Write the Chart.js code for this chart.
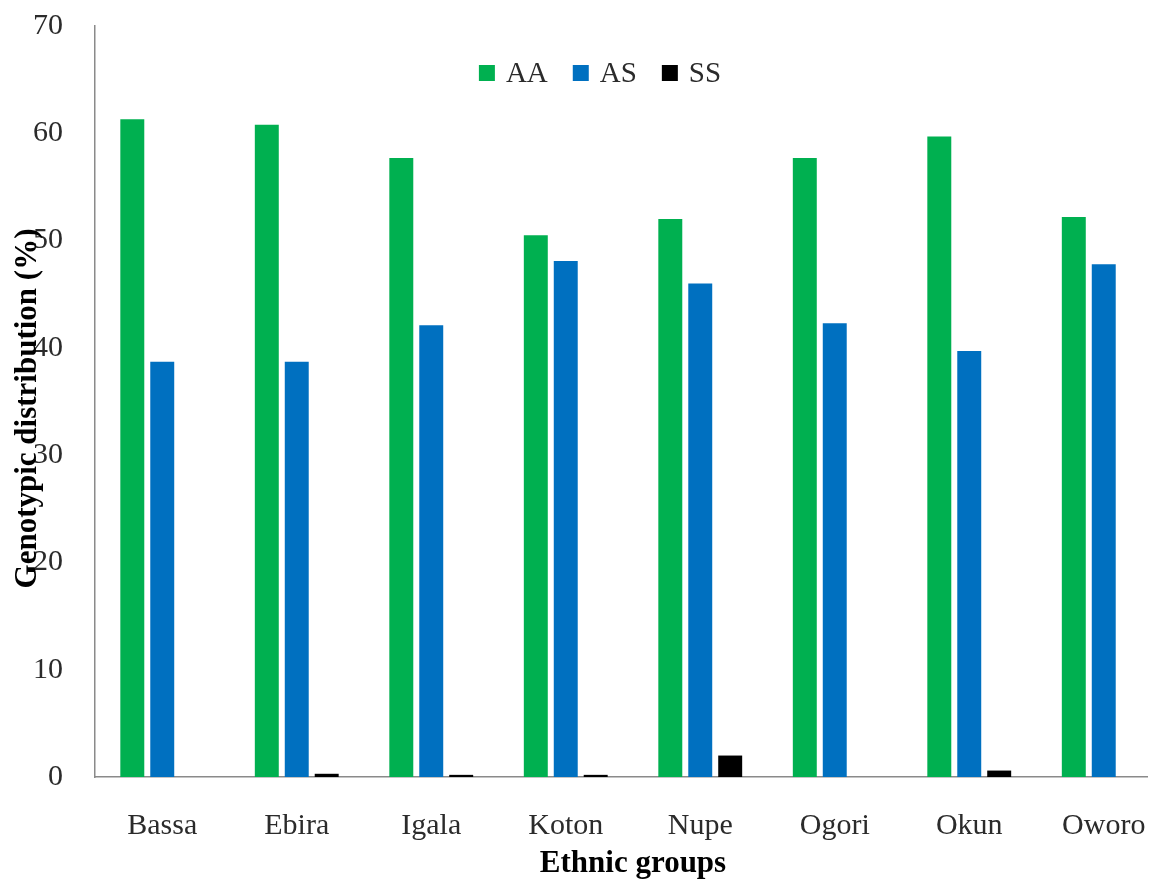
<!DOCTYPE html>
<html>
<head>
<meta charset="utf-8">
<script src="https://cdn.jsdelivr.net/npm/chart.js@4/dist/chart.umd.min.js"></script>
<style>
  html, body { margin: 0; padding: 0; background: #ffffff; overflow: hidden; }
  #wrap { width: 1148px; height: 884px; overflow: hidden; background: #ffffff; }
  canvas { display: block; }
</style>
</head>
<body>
<div id="wrap"><canvas id="chart" width="1180" height="884"></canvas></div>
<script>
// Ethnic groups on the x axis
const categories = ['Bassa', 'Ebira', 'Igala', 'Koton', 'Nupe', 'Ogori', 'Okun', 'Oworo'];

// Genotype frequencies (%) per group
const aaValues = [61.3, 60.8, 57.7, 50.5, 52.0, 57.7, 59.7, 52.2];
const asValues = [38.7, 38.7, 42.1, 48.1, 46.0, 42.3, 39.7, 47.8];
const ssValues = [0.0, 0.3, 0.2, 0.2, 2.0, 0.0, 0.6, 0.0];

const seriesNames = ['AA', 'AS', 'SS'];
const seriesColors = ['#00B050', '#0070C0', '#000000'];

const yTicks = [0, 10, 20, 30, 40, 50, 60, 70];

const serif = "'Liberation Serif', 'Times New Roman', serif";
const textColor = '#2b2b2b';
const axisColor = '#8a8a8a';

// Legend row drawn inside the plot area, near the top
const innerLegend = {
  id: 'innerLegend',
  afterDraw(chart) {
    const ctx = chart.ctx;
    const box = 16, gapText = 11, gapItem = 25;
    ctx.save();
    ctx.font = "29px " + serif;
    ctx.textBaseline = 'middle';
    ctx.textAlign = 'left';
    const items = chart.data.datasets.map(ds => ({
      label: ds.label, color: ds.backgroundColor, w: ctx.measureText(ds.label).width
    }));
    const total = items.reduce((s, it) => s + box + gapText + it.w, 0) + gapItem * (items.length - 1);
    let x = 600 - total / 2;
    const yc = chart.chartArea.top + 47;
    items.forEach(it => {
      ctx.fillStyle = it.color;
      ctx.fillRect(x, yc - box / 2, box, box);
      ctx.fillStyle = textColor;
      ctx.fillText(it.label, x + box + gapText, yc + 1);
      x += box + gapText + it.w + gapItem;
    });
    ctx.restore();
  }
};

// Rotated y-axis title, set close to the tick labels
const yTitle = {
  id: 'yTitle',
  afterDraw(chart) {
    const ctx = chart.ctx;
    const area = chart.chartArea;
    ctx.save();
    ctx.translate(28, (area.top + area.bottom) / 2 + 7);
    ctx.rotate(-Math.PI / 2);
    ctx.font = "bold 31px " + serif;
    ctx.fillStyle = '#000000';
    ctx.textAlign = 'center';
    ctx.textBaseline = 'middle';
    ctx.fillText('Genotypic distribution (%)', 0, 0);
    ctx.restore();
  }
};

const datasets = [aaValues, asValues, ssValues].map((vals, i) => ({
  label: seriesNames[i],
  data: vals,
  backgroundColor: seriesColors[i],
  borderWidth: 0,
  categoryPercentage: 0.668,
  barPercentage: 0.8
}));

new Chart(document.getElementById('chart'), {
  type: 'bar',
  data: { labels: categories, datasets: datasets },
  options: {
    responsive: false,
    animation: false,
    layout: { padding: { top: 26, right: 9, bottom: 0, left: 0 } },
    plugins: {
      legend: { display: false },
      tooltip: { enabled: false }
    },
    scales: {
      x: {
        grid: { display: false, drawTicks: false, tickLength: 0 },
        border: { display: true, color: axisColor, width: 1.5 },
        ticks: {
          color: textColor,
          font: { family: serif, size: 30 },
          padding: 31,
          maxRotation: 0,
          autoSkip: false
        },
        title: {
          display: true,
          text: 'Ethnic groups',
          color: '#000000',
          font: { family: serif, size: 31, weight: 'bold' },
          padding: { top: 0, bottom: 1 }
        },
        afterFit(scale) {
          scale.height = 107;
          scale.paddingLeft = 0;
          scale.paddingRight = 0;
        }
      },
      y: {
        min: 0,
        max: 70,
        afterBuildTicks(scale) { scale.ticks = yTicks.map(v => ({ value: v })); },
        grid: { display: false, drawTicks: false, tickLength: 0 },
        border: { display: true, color: axisColor, width: 1.5 },
        ticks: {
          color: textColor,
          font: { family: serif, size: 30 },
          padding: 32
        },
        afterFit(scale) {
          scale.width = 95;
          scale.paddingTop = 0;
          scale.paddingBottom = 0;
        }
      }
    }
  },
  plugins: [innerLegend, yTitle]
});
</script>
</body>
</html>
